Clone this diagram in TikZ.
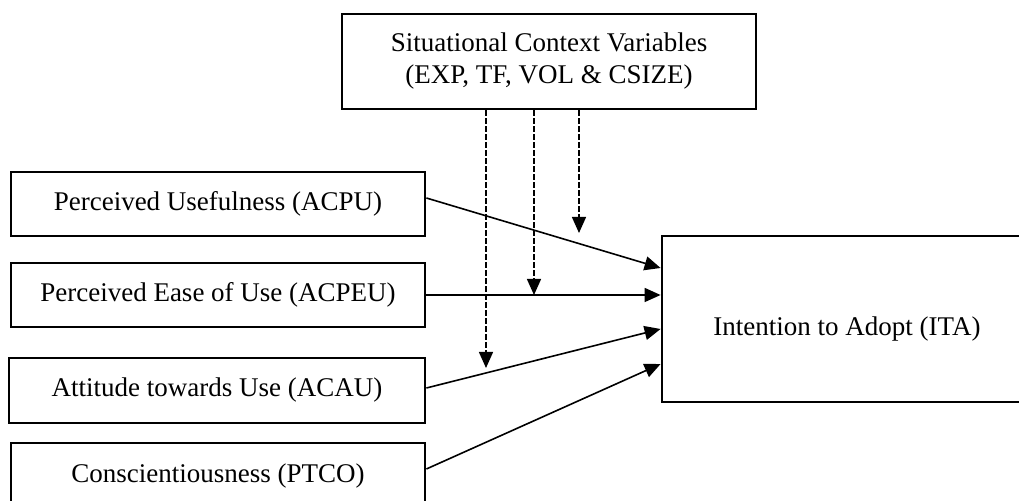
\documentclass[tikz,border=0pt]{standalone}
\usepackage{fontspec}
\setmainfont{Liberation Serif}
\usetikzlibrary{arrows.meta}

\begin{document}
\begin{tikzpicture}[
    x=0.5pt, y=-0.5pt,
    every node/.style={font=\fontsize{13.5}{16}\selectfont},
    box/.style={draw, line width=1.4pt, rectangle, inner sep=0pt, align=center},
    link/.style={line width=0.8pt, -{Triangle[length=8pt,width=7pt]}},
    moderator/.style={line width=0.7pt, dash pattern=on 2.6pt off 1.4pt,
                      -{Triangle[length=8pt,width=7pt]}}
  ]
  % page area
  \fill[white] (0,0) rectangle (1019,501);
  \clip (0,0) rectangle (1019,501);

  % situational context (moderators)
  \node[box, minimum width=207pt, minimum height=47.5pt] (CV) at (549,61.5)
    {Situational Context Variables\\(EXP, TF, VOL \& CSIZE)};

  % predictors
  \node[box, minimum width=207pt, minimum height=32pt] (PU)   at (218,204)
    {Perceived Usefulness (ACPU)};
  \node[box, minimum width=207pt, minimum height=32pt] (PEU)  at (218,295)
    {Perceived Ease of Use (ACPEU)};
  \node[box, minimum width=208pt, minimum height=32.5pt] (ATU) at (217,390.5)
    {Attitude towards Use (ACAU)};
  \node[box, minimum width=207pt, minimum height=33pt] (PTCO) at (218,476)
    {Conscientiousness (PTCO)};

  % outcome
  \node[box, minimum width=185pt, minimum height=83pt] (ITA) at (847,319) {};
  \node (ITAtext) at ([yshift=-4.8pt]ITA.center) {Intention to Adopt (ITA)};

  % direct effects
  \draw[link] (PU.east |- 0,198)   -- (ITA.west |- 0,268);
  \draw[link] (PEU.east |- 0,295)  -- (ITA.west |- 0,295);
  \draw[link] (ATU.east |- 0,388)  -- (ITA.west |- 0,329);
  \draw[link] (PTCO.east |- 0,469) -- (ITA.west |- 0,364);

  % moderating effects
  \coordinate (m1) at (486,368);
  \coordinate (m2) at (534,295);
  \coordinate (m3) at (579,233);
  \draw[moderator] (CV.south -| m1) -- (m1);
  \draw[moderator] (CV.south -| m2) -- (m2);
  \draw[moderator] (CV.south -| m3) -- (m3);
\end{tikzpicture}
\end{document}
